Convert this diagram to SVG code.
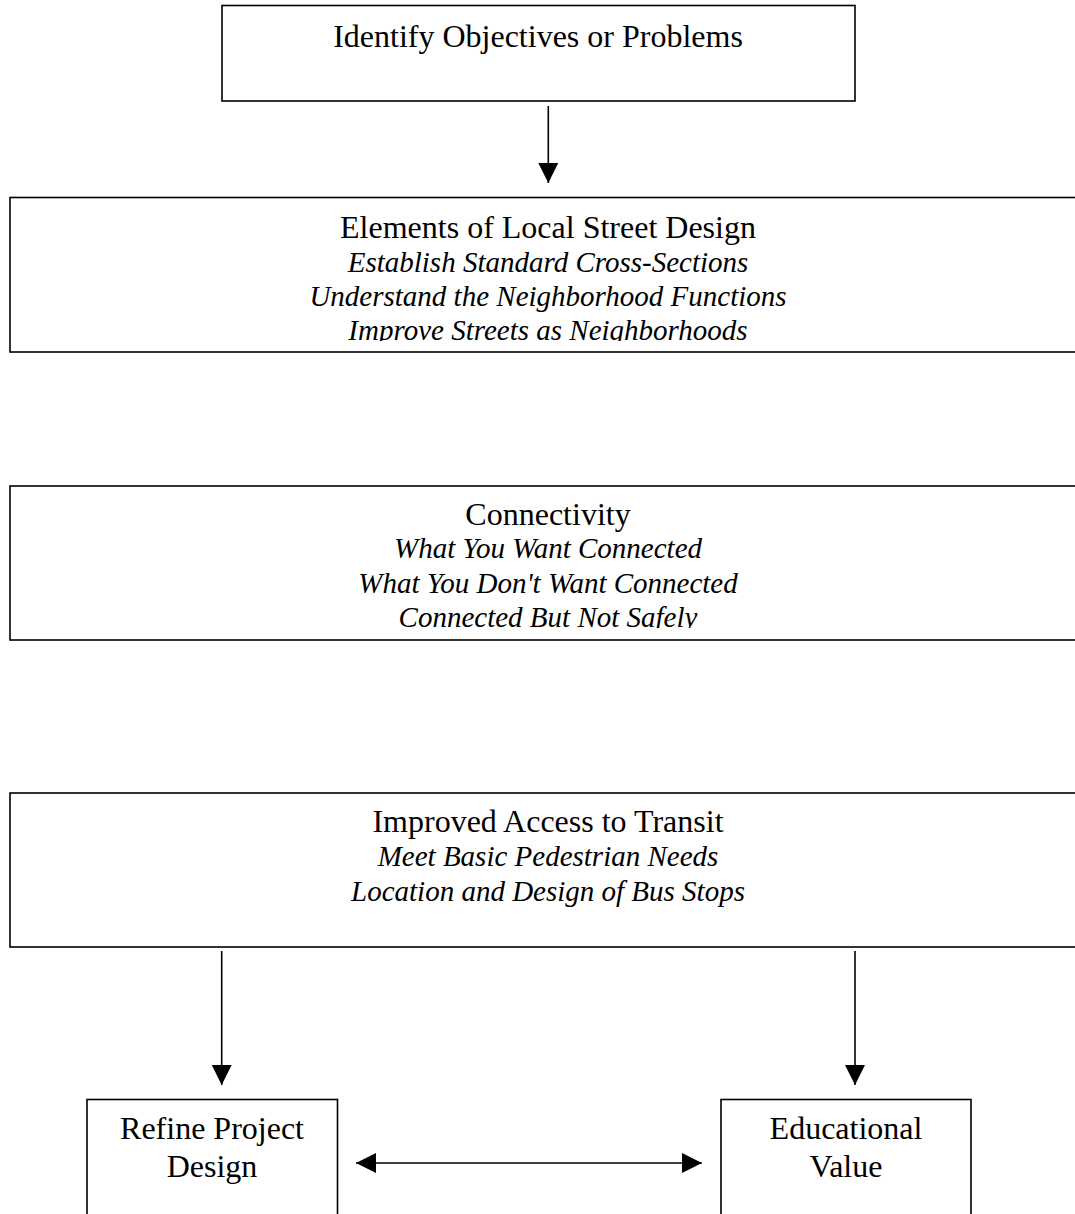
<svg xmlns="http://www.w3.org/2000/svg" width="1075" height="1214" viewBox="0 0 1075 1214">
<style>
.box{fill:#fff;stroke:#000;stroke-width:1.6}
.t{font-family:"Liberation Serif","Times New Roman",serif;font-size:32px;fill:#000;text-anchor:middle}
.i{font-family:"Liberation Serif","Times New Roman",serif;font-size:29px;font-style:italic;fill:#000;text-anchor:middle}
.c{stroke:#000;stroke-width:1.6;fill:none}
</style>
<defs>
<marker id="ah" markerWidth="20" markerHeight="20" viewBox="0 0 20 20" refX="20" refY="10" orient="auto" markerUnits="userSpaceOnUse">
<path d="M0,0 L20,10 L0,20 Z" fill="#000"/>
</marker>
<marker id="as" markerWidth="20" markerHeight="20" viewBox="0 0 20 20" refX="0" refY="10" orient="auto" markerUnits="userSpaceOnUse">
<path d="M20,0 L0,10 L20,20 Z" fill="#000"/>
</marker>
<clipPath id="clip2"><rect x="0" y="198" width="1075" height="143"/></clipPath>
<clipPath id="clip3"><rect x="0" y="486" width="1075" height="142"/></clipPath>
</defs>
<rect width="1075" height="1214" fill="#fff"/>
<g id="n1">
<rect class="box" x="222" y="5.5" width="633" height="95.5"/>
<text class="t" x="538" y="47">Identify Objectives or Problems</text>
</g>
<g id="n2">
<rect class="box" x="10" y="197.5" width="1078" height="154.5"/>
<g clip-path="url(#clip2)">
<text class="t" x="548" y="238">Elements of Local Street Design</text>
<text class="i" x="548" y="272">Establish Standard Cross-Sections</text>
<text class="i" x="548" y="306">Understand the Neighborhood Functions</text>
<text class="i" x="548" y="340">Improve Streets as Neighborhoods</text>
</g>
</g>
<g id="n3">
<rect class="box" x="10" y="486" width="1078" height="154"/>
<g clip-path="url(#clip3)">
<text class="t" x="548" y="525">Connectivity</text>
<text class="i" x="548" y="558">What You Want Connected</text>
<text class="i" x="548" y="593">What You Don't Want Connected</text>
<text class="i" x="548" y="627">Connected But Not Safely</text>
</g>
</g>
<g id="n4">
<rect class="box" x="10" y="793" width="1078" height="154"/>
<text class="t" x="548" y="832">Improved Access to Transit</text>
<text class="i" x="548" y="866">Meet Basic Pedestrian Needs</text>
<text class="i" x="548" y="901">Location and Design of Bus Stops</text>
</g>
<g id="n5">
<rect class="box" x="87" y="1099.5" width="250.5" height="130"/>
<text class="t" x="212" y="1139">Refine Project</text>
<text class="t" x="212" y="1177">Design</text>
</g>
<g id="n6">
<rect class="box" x="721" y="1099.5" width="250" height="130"/>
<text class="t" x="846" y="1139">Educational</text>
<text class="t" x="846" y="1177">Value</text>
</g>
<g id="connectors">
<line class="c" x1="548.3" y1="106" x2="548.3" y2="183" marker-end="url(#ah)"/>
<line class="c" x1="221.7" y1="951" x2="221.7" y2="1085" marker-end="url(#ah)"/>
<line class="c" x1="855" y1="951" x2="855" y2="1085" marker-end="url(#ah)"/>
<line class="c" x1="356" y1="1163" x2="702" y2="1163" stroke-width="2.5" marker-start="url(#as)" marker-end="url(#ah)"/>
</g>
</svg>
